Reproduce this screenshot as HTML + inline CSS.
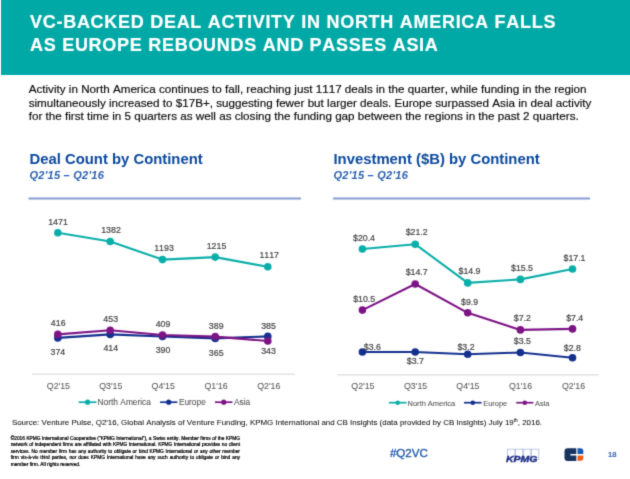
<!DOCTYPE html>
<html><head><meta charset="utf-8">
<style>
html,body{margin:0;padding:0;background:#fff;}
body{width:630px;height:479px;position:relative;overflow:hidden;font-family:"Liberation Sans",sans-serif;font-kerning:none;}
.abs{position:absolute;white-space:nowrap;}
#hdr{left:1px;top:-6px;width:640px;height:80.8px;background:#00a9a5;}
.ttl{color:#fff;-webkit-text-stroke:0.2px #fff;font-weight:bold;font-size:18px;line-height:20px;left:30px;letter-spacing:0.72px;}
.body{color:#0a0a0a;-webkit-text-stroke:0.17px #0a0a0a;font-size:11.66px;line-height:14px;left:28.7px;}
.ct{color:#0a489e;font-weight:bold;font-size:14.85px;line-height:16px;}
.cs{color:#2a60b0;font-weight:bold;font-style:italic;font-size:11px;letter-spacing:0.25px;line-height:12px;}
svg text{font-family:"Liberation Sans",sans-serif;font-kerning:none;}
#disc{left:10.7px;top:435.8px;width:229.3px;font-size:4.82px;line-height:6.47px;color:#000;-webkit-text-stroke:0.22px #000;}
.dl{text-align:justify;text-align-last:justify;white-space:nowrap;height:6.47px;}
.dl.last{text-align-last:left;}
#wrap{position:absolute;left:0;top:0;width:630px;height:479px;filter:url(#bl);}
</style></head><body>
<svg width="0" height="0" style="position:absolute"><filter id="bl" x="0" y="0" width="100%" height="100%" color-interpolation-filters="sRGB"><feConvolveMatrix order="3" kernelMatrix="0.0192 0.1001 0.0192 0.1001 0.5228 0.1001 0.0192 0.1001 0.0192" edgeMode="duplicate" preserveAlpha="false"/></filter></svg>
<div id="wrap">
<div id="hdr" class="abs"></div>
<div class="abs ttl" style="top:12.1px;">VC-BACKED DEAL ACTIVITY IN NORTH AMERICA FALLS</div>
<div class="abs ttl" style="top:34.7px;">AS EUROPE REBOUNDS AND PASSES ASIA</div>
<div class="abs body" style="top:82.35px;">Activity in North America continues to fall, reaching just 1117 deals in the quarter, while funding in the region</div>
<div class="abs body" style="top:95.55px;">simultaneously increased to $17B+, suggesting fewer but larger deals. Europe surpassed Asia in deal activity</div>
<div class="abs body" style="top:108.8px;">for the first time in 5 quarters as well as closing the funding gap between the regions in the past 2 quarters.</div>

<div class="abs ct" style="left:29.5px;top:150.9px;">Deal Count by Continent</div>
<div class="abs cs" style="left:29.5px;top:168.7px;">Q2'15 – Q2'16</div>
<div class="abs ct" style="left:333.5px;top:150.9px;">Investment ($B) by Continent</div>
<div class="abs cs" style="left:333.5px;top:168.7px;">Q2'15 – Q2'16</div>

<svg class="abs" style="left:0;top:0;" width="630" height="479" viewBox="0 0 630 479">
<line x1="28.5" y1="198.5" x2="301" y2="198.5" stroke="#869dd4" stroke-width="2"/>
<line x1="333" y1="198.5" x2="590" y2="198.5" stroke="#869dd4" stroke-width="2"/>
<line x1="32" y1="374.1" x2="294.7" y2="374.1" stroke="#dedede" stroke-width="1.2"/>
<line x1="337" y1="374.8" x2="599" y2="374.8" stroke="#dedede" stroke-width="1.2"/>
<g fill="none" stroke-width="2.1" stroke-linejoin="round">
<polyline stroke="#0aaea9" points="57.8,232.7 110.2,241.5 162.5,259.6 215.2,257.1 267.8,266.8"/>
<polyline stroke="#14308f" points="57.8,337.9 110.2,334.4 162.5,336.5 215.2,338.4 267.8,336.4"/>
<polyline stroke="#7d1485" points="57.8,334.4 110.2,330.3 162.5,335.0 215.2,336.6 267.8,341.0"/>
<polyline stroke="#0aaea9" points="362.4,249.0 415.2,244.2 467.7,282.9 520.4,279.4 572.5,269.0"/>
<polyline stroke="#14308f" points="362.4,352.0 415.2,352.0 467.7,354.3 520.4,352.5 572.5,357.8"/>
<polyline stroke="#7d1485" points="362.4,310.1 415.2,284.0 467.7,312.8 520.4,329.9 572.5,328.9"/>
</g>
<g fill="#0aaea9"><circle cx="57.8" cy="232.7" r="3.8"/><circle cx="110.2" cy="241.5" r="3.8"/><circle cx="162.5" cy="259.6" r="3.8"/><circle cx="215.2" cy="257.1" r="3.8"/><circle cx="267.8" cy="266.8" r="3.8"/></g>
<g fill="#14308f"><circle cx="57.8" cy="337.9" r="3.8"/><circle cx="110.2" cy="334.4" r="3.8"/><circle cx="162.5" cy="336.5" r="3.8"/><circle cx="215.2" cy="338.4" r="3.8"/><circle cx="267.8" cy="336.4" r="3.8"/></g>
<g fill="#7d1485"><circle cx="57.8" cy="334.4" r="3.8"/><circle cx="110.2" cy="330.3" r="3.8"/><circle cx="162.5" cy="335.0" r="3.8"/><circle cx="215.2" cy="336.6" r="3.8"/><circle cx="267.8" cy="341.0" r="3.8"/></g>
<g fill="#0aaea9"><circle cx="362.4" cy="249.0" r="3.8"/><circle cx="415.2" cy="244.2" r="3.8"/><circle cx="467.7" cy="282.9" r="3.8"/><circle cx="520.4" cy="279.4" r="3.8"/><circle cx="572.5" cy="269.0" r="3.8"/></g>
<g fill="#14308f"><circle cx="362.4" cy="352.0" r="3.8"/><circle cx="415.2" cy="352.0" r="3.8"/><circle cx="467.7" cy="354.3" r="3.8"/><circle cx="520.4" cy="352.5" r="3.8"/><circle cx="572.5" cy="357.8" r="3.8"/></g>
<g fill="#7d1485"><circle cx="362.4" cy="310.1" r="3.8"/><circle cx="415.2" cy="284.0" r="3.8"/><circle cx="467.7" cy="312.8" r="3.8"/><circle cx="520.4" cy="329.9" r="3.8"/><circle cx="572.5" cy="328.9" r="3.8"/></g>
<g font-size="8.8" fill="#444444" stroke="#444444" stroke-width="0.2" text-anchor="middle"><text x="58.0" y="224.8">1471</text><text x="111.0" y="232.9">1382</text><text x="164.0" y="251.3">1193</text><text x="216.5" y="249.3">1215</text><text x="269.2" y="258.1">1117</text><text x="58.2" y="325.7">416</text><text x="110.7" y="321.9">453</text><text x="163.0" y="326.5">409</text><text x="216.2" y="328.5">389</text><text x="268.5" y="329.0">385</text><text x="57.9" y="355.2">374</text><text x="110.8" y="351.4">414</text><text x="163.0" y="353.4">390</text><text x="216.2" y="356.2">365</text><text x="268.5" y="354.4">343</text><text x="364.0" y="240.6">$20.4</text><text x="416.7" y="235.3">$21.2</text><text x="469.5" y="274.3">$14.9</text><text x="522.0" y="270.5">$15.5</text><text x="574.5" y="260.6">$17.1</text><text x="364.2" y="301.5">$10.5</text><text x="416.7" y="275.4">$14.7</text><text x="469.6" y="304.5">$9.9</text><text x="522.3" y="321.3">$7.2</text><text x="574.7" y="320.8">$7.4</text><text x="372.4" y="349.5">$3.6</text><text x="415.3" y="363.9">$3.7</text><text x="466.0" y="349.5">$3.2</text><text x="522.3" y="344.1">$3.5</text><text x="572.3" y="350.5">$2.8</text></g>
<g font-size="8.8" fill="#5a5a5a" stroke="#5a5a5a" stroke-width="0.08" text-anchor="middle"><text x="58.4" y="389">Q2'15</text><text x="110.8" y="389">Q3'15</text><text x="163.2" y="389">Q4'15</text><text x="216.0" y="389">Q1'16</text><text x="268.8" y="389">Q2'16</text><text x="362.9" y="389">Q2'15</text><text x="415.6" y="389">Q3'15</text><text x="467.9" y="389">Q4'15</text><text x="520.5" y="389">Q1'16</text><text x="573.5" y="389">Q2'16</text></g>
<line x1="78.7" y1="402.2" x2="96.5" y2="402.2" stroke="#0aaea9" stroke-width="1.7"/><circle cx="87.6" cy="402.2" r="2.6" fill="#0aaea9"/><line x1="160.1" y1="402.2" x2="177.3" y2="402.2" stroke="#14308f" stroke-width="1.7"/><circle cx="168.7" cy="402.2" r="2.6" fill="#14308f"/><line x1="215" y1="402.2" x2="232.5" y2="402.2" stroke="#7d1485" stroke-width="1.7"/><circle cx="223.75" cy="402.2" r="2.6" fill="#7d1485"/>
<g font-size="8.36" fill="#555555" stroke="#555555" stroke-width="0.08" text-anchor="start"><text x="97.6" y="404.8">North America</text><text x="178.9" y="404.8">Europe</text><text x="234.0" y="404.8">Asia</text></g>
<line x1="388.8" y1="402.7" x2="406.6" y2="402.7" stroke="#0aaea9" stroke-width="1.7"/><circle cx="397.70000000000005" cy="402.7" r="2.3" fill="#0aaea9"/><line x1="464" y1="402.7" x2="481.6" y2="402.7" stroke="#14308f" stroke-width="1.7"/><circle cx="472.8" cy="402.7" r="2.3" fill="#14308f"/><line x1="516.2" y1="402.7" x2="533.4" y2="402.7" stroke="#7d1485" stroke-width="1.7"/><circle cx="524.8" cy="402.7" r="2.3" fill="#7d1485"/>
<g font-size="7.45" fill="#555555" stroke="#555555" stroke-width="0.08" text-anchor="start"><text x="407.6" y="405.7">North America</text><text x="483.2" y="405.7">Europe</text><text x="535.0" y="405.7">Asia</text></g>
</svg>

<div class="abs" style="left:11.9px;top:417.6px;font-size:7.955px;line-height:10px;color:#111;-webkit-text-stroke:0.06px #111;">Source: Venture Pulse, Q2'16, Global Analysis of Venture Funding, KPMG International and CB Insights (data provided by CB Insights) July 19<span style="font-size:4.8px;position:relative;top:-3px;">th</span>, 2016.</div>

<div class="abs" id="disc"><div class="dl">©2016 KPMG International Cooperative ("KPMG International"), a Swiss entity. Member firms of the KPMG</div><div class="dl">network of independent firms are affiliated with KPMG International. KPMG International provides no client</div><div class="dl">services. No member firm has any authority to obligate or bind KPMG International or any other member</div><div class="dl">firm vis-à-vis third parties, nor does KPMG International have any such authority to obligate or bind any</div><div class="dl last">member firm. All rights reserved.</div></div>

<div class="abs" style="left:389.9px;top:446.1px;font-size:11.6px;line-height:14px;color:#1a55ac;-webkit-text-stroke:0.3px #1a55ac;">#Q2VC</div>
<div class="abs" style="left:607.9px;top:450.3px;font-size:7.7px;line-height:10px;color:#184a9c;-webkit-text-stroke:0.2px #184a9c;">18</div>

<!-- KPMG logo -->
<svg class="abs" style="left:500px;top:440px;" width="50" height="30" viewBox="500 440 50 30">
<g fill="none" stroke="#b3c2e3" stroke-width="0.9">
<rect x="507.4" y="449.2" width="7.4" height="10"/><rect x="515.4" y="449.2" width="7.4" height="10"/><rect x="523.4" y="449.2" width="7.4" height="10"/><rect x="531.4" y="449.2" width="7.4" height="10"/>
</g>
<text x="505.9" y="461.7" font-size="9.7" font-weight="bold" font-style="italic" fill="#1b2a86" stroke="#1b2a86" stroke-width="0.35" textLength="31.6" lengthAdjust="spacingAndGlyphs">KPMG</text>
</svg>
<!-- CB logo -->
<svg class="abs" style="left:560px;top:445px;" width="30" height="20" viewBox="560 445 30 20">
<path d="M567.7,448.3 H576.3 V453.9 H570.4 V455.5 H576.3 V461 H567.7 A3.2,3.2 0 0 1 564.5,457.8 V451.5 A3.2,3.2 0 0 1 567.7,448.3 Z" fill="#17335e"/>
<path d="M577.5,448.3 H580.5 A2.8,2.8 0 0 1 583.3,451.1 V453.9 H577.5 Z" fill="#1459b8"/>
<path d="M577.5,455.5 H583.3 V458 A2.8,2.8 0 0 1 580.5,460.8 H577.5 Z" fill="#f85a12"/>
</svg>
</div>
</body></html>
